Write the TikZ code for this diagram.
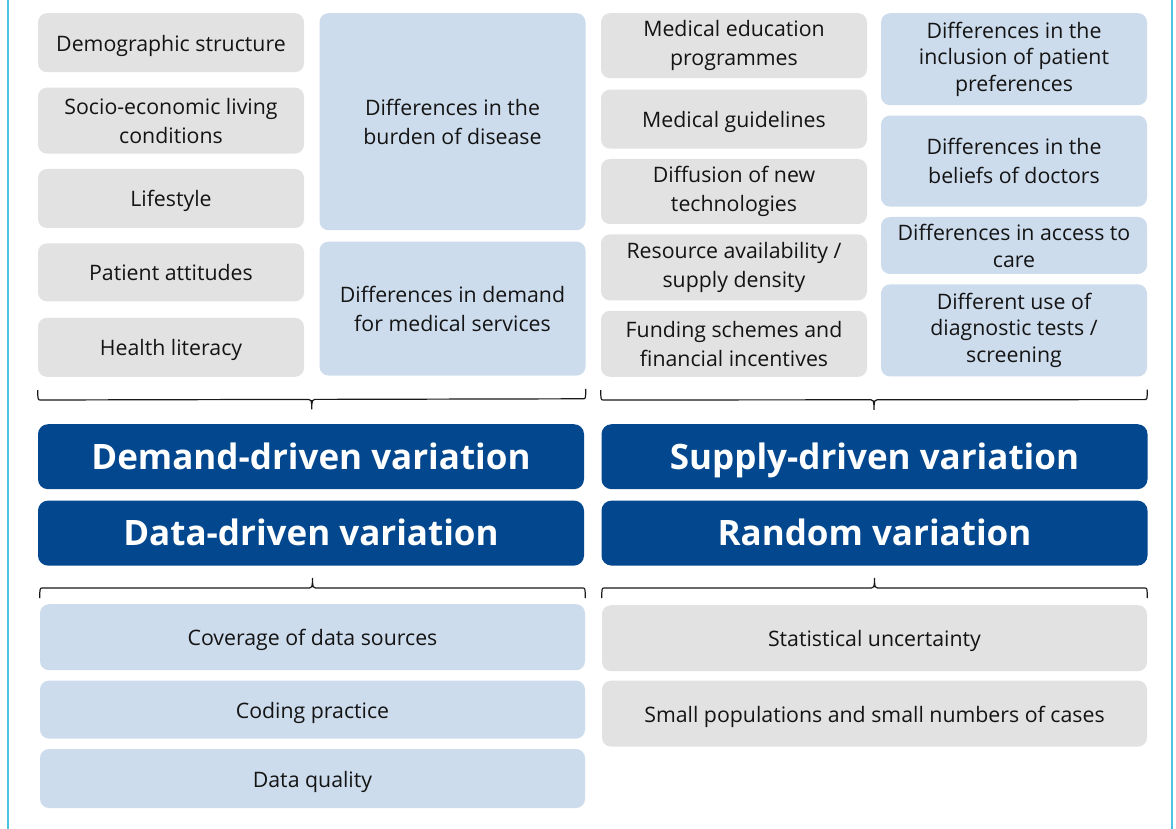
\documentclass[tikz,border=0pt]{standalone}
\usepackage{fontspec}
\setmainfont{Open Sans}
\usepackage{xcolor}
\usepackage{tikz}
\usetikzlibrary{
	calc,
	positioning
	}
\definecolor{gris-case}{HTML}{E2E2E2}
\definecolor{bleu-case}{HTML}{CDDCEC}
\definecolor{bleu-titre}{HTML}{03488F}
\definecolor{bleu-cadre}{HTML}{4CC3E3}
\tikzstyle{box-std}=[rounded corners=9pt,align=center,inner sep=2pt,text=black!92,font=\fontsize{21.3}{29}\selectfont,minimum width=266pt]
\tikzstyle{box-grey}=[box-std,fill=gris-case]
\tikzstyle{box-blue}=[box-std,fill=bleu-case]
\tikzstyle{one-line}=[execute at begin node={\rule{0pt}{23pt}},execute at end node={\rule[-6pt]{0pt}{0pt}}]
\tikzstyle{box-title}=[rounded corners=10pt,fill=bleu-titre,text=white,font=\fontsize{35}{40}\selectfont\bfseries,text height=25pt,text depth=0pt,minimum width=546pt,minimum height=65pt]
\tikzstyle{brace-line}=[line width=1.2pt,black!90]
\tikzstyle{frame-line}=[draw=bleu-cadre,line width=2pt]
% flat brace from #1 to #2, depth #3 (opposite #4)
\newcommand{\accolade}[4]{%
\draw[brace-line] (#1) .. controls +(0,#3) and +(-3,0) .. ($(#1)+(3,#3)$)
	-- ($(#1)!0.5!(#2)+(-3,#3)$) .. controls +(2,0) and +(0,#4) .. ($(#1)!0.5!(#2)+(0,#3)+(0,#3)$)
	.. controls +(0,#4) and +(-2,0) .. ($(#1)!0.5!(#2)+(3,#3)$)
	-- ($(#2)+(-3,#3)$) .. controls +(3,0) and +(0,#3) .. (#2);}

\begin{document}
\begin{tikzpicture}[x=1pt,y=-1pt]
\useasboundingbox[fill=white] (0,0) rectangle (1176,829);
\draw[frame-line] (8,0) -- (8,829);
\draw[frame-line] (1172,0) -- (1172,829);

% demand side
\node[box-grey,one-line,minimum height=59pt,anchor=north] (dem1) at (171,13) {Demographic structure};
\node[box-grey,minimum height=66pt,below=15pt of dem1] (dem2) {Socio-economic living\\conditions};
\node[box-grey,one-line,minimum height=59pt,below=15pt of dem2] (dem3) {Lifestyle};
\node[box-grey,one-line,minimum height=58pt,below=15pt of dem3] (dem4) {Patient attitudes};
\node[box-grey,one-line,minimum height=59pt,below=16pt of dem4] (dem5) {Health literacy};
\node[box-blue,minimum height=217pt,anchor=north] (dem6) at (452.5,13) {Differences in the\\burden of disease};
\node[box-blue,minimum height=134pt,below=11pt of dem6] (dem7) {Differences in demand\\for medical services};

% supply side
\node[box-grey,minimum height=65pt,anchor=north] (sup1) at (734,13) {Medical education\\programmes};
\node[box-grey,one-line,minimum height=59pt,below=11pt of sup1] (sup2) {Medical guidelines};
\node[box-grey,minimum height=65pt,below=10pt of sup2] (sup3) {Diffusion of new\\technologies};
\node[box-grey,minimum height=66pt,below=10pt of sup3] (sup4) {Resource availability /\\supply density};
\node[box-grey,minimum height=66pt,below=10pt of sup4] (sup5) {Funding schemes and\\financial incentives};
\node[box-blue,minimum height=92pt,anchor=north,font=\fontsize{21.3}{26.5}\selectfont] (sup6) at (1014,13) {Differences in the\\inclusion of patient\\preferences};
\node[box-blue,minimum height=91pt,below=10pt of sup6] (sup7) {Differences in the\\beliefs of doctors};
\node[box-blue,minimum height=57pt,below=10pt of sup7,font=\fontsize{21.3}{27}\selectfont] (sup8) {Differences in access to\\care};
\node[box-blue,minimum height=92pt,below=10pt of sup8,font=\fontsize{21.3}{26.5}\selectfont] (sup9) {Different use of\\diagnostic tests /\\screening};

\coordinate (acc1a) at ($(dem5.south west)+(0,13)$);
\coordinate (acc1b) at ($(dem7.south east)+(0,13)$);
\coordinate (acc2a) at ($(sup5.south west)+(0,13)$);
\coordinate (acc2b) at ($(sup9.south east)+(0,13)$);
\accolade{acc1a}{acc1b}{10}{-10}
\accolade{acc2a}{acc2b}{10}{-10}

% titles
\node[box-title,anchor=north] (tit1) at (311,424) {Demand-driven variation};
\node[box-title,below=11pt of tit1] (tit3) {Data-driven variation};
\node[box-title,anchor=north] (tit2) at (874.5,424) {Supply-driven variation};
\node[box-title,below=11pt of tit2] (tit4) {Random variation};

% data and random
\node[box-blue,one-line,minimum width=545pt,minimum height=66pt,anchor=north] (dat1) at (312.5,604) {Coverage of data sources};
\node[box-blue,one-line,minimum width=545pt,minimum height=58pt,below=10pt of dat1] (dat2) {Coding practice};
\node[box-blue,one-line,minimum width=545pt,minimum height=59pt,below=10pt of dat2] (dat3) {Data quality};
\node[box-grey,one-line,minimum width=545pt,minimum height=66pt,anchor=north] (ran1) at (874.5,605) {Statistical uncertainty};
\node[box-grey,one-line,minimum width=545pt,minimum height=66pt,below=9pt of ran1] (ran2) {Small populations and small numbers of cases};

\coordinate (acc3a) at ($(dat1.north west)+(0,-6)$);
\coordinate (acc3b) at ($(dat1.north east)+(0,-6)$);
\coordinate (acc4a) at ($(ran1.north west)+(0,-7)$);
\coordinate (acc4b) at ($(ran1.north east)+(0,-7)$);
\accolade{acc3a}{acc3b}{-10}{10}
\accolade{acc4a}{acc4b}{-10}{10}
\end{tikzpicture}
\end{document}
